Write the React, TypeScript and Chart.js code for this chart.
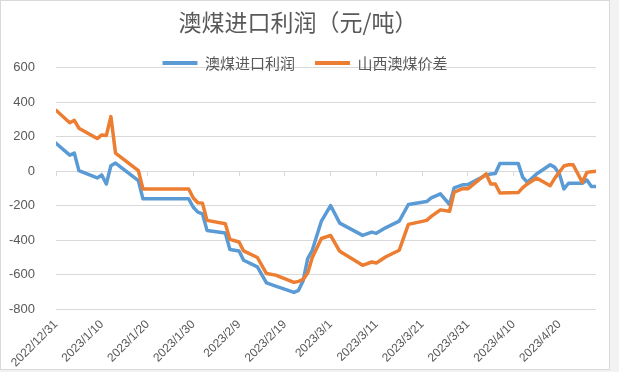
import React, { useEffect, useRef } from "react";
import { Chart, registerables } from "chart.js";

Chart.register(...registerables);

const TITLE = "澳煤进口利润（元/吨）";
const SERIES_NAMES = ["澳煤进口利润", "山西澳煤价差"];

const dates = [
  "2022/12/31", "2023/1/3", "2023/1/4", "2023/1/5", "2023/1/9", "2023/1/10", "2023/1/11", "2023/1/12", "2023/1/13",
  "2023/1/18", "2023/1/19", "2023/1/29", "2023/1/30", "2023/1/31", "2023/2/1", "2023/2/2", "2023/2/6", "2023/2/7",
  "2023/2/9", "2023/2/10", "2023/2/13", "2023/2/15", "2023/2/17", "2023/2/21", "2023/2/22", "2023/2/23", "2023/2/24",
  "2023/2/25", "2023/2/27", "2023/3/1", "2023/3/3", "2023/3/8", "2023/3/10", "2023/3/11", "2023/3/13", "2023/3/16",
  "2023/3/18", "2023/3/22", "2023/3/23", "2023/3/25", "2023/3/27", "2023/3/28", "2023/3/30", "2023/3/31", "2023/4/4",
  "2023/4/5", "2023/4/6", "2023/4/7", "2023/4/11", "2023/4/12", "2023/4/13", "2023/4/15", "2023/4/18", "2023/4/19",
  "2023/4/20", "2023/4/21", "2023/4/22", "2023/4/23", "2023/4/25", "2023/4/26", "2023/4/27", "2023/4/28",
];

// 澳煤进口利润
const importProfit = [
  162, 93, 105, 3, -39, -22, -74, 32, 47,
  -55, -160, -160, -209, -237, -247, -343, -358, -454,
  -462, -516, -554, -647, -666, -702, -690, -635, -506,
  -458, -289, -199, -301, -372, -353, -360, -328, -289,
  -193, -176, -155, -131, -193, -97, -78, -78, -22,
  -16, -13, 45, 45, -36, -64, -16, 37, 22,
  -16, -103, -70, -70, -70, -51, -89, -89,
];

// 山西澳煤价差
const shanxiSpread = [
  353, 281, 295, 249, 189, 210, 207, 316, 105,
  3, -103, -103, -155, -183, -185, -285, -305, -395,
  -410, -462, -500, -593, -602, -644, -638, -627, -590,
  -500, -390, -372, -464, -545, -526, -532, -497, -458,
  -308, -285, -262, -224, -232, -122, -100, -102, -16,
  -74, -74, -126, -124, -95, -74, -40, -84, -40,
  -5, 30, 37, 37, -64, -7, -3, -1,
];

const Y_MIN = -800;
const Y_MAX = 600;
const Y_STEP = 200;
const X_START = "2022/12/31";
const X_END = "2023/4/28";
const X_STEP_DAYS = 10;

const BLUE = "#5B9BD5";
const ORANGE = "#ED7D31";
const TEXT = "#595959";
const GRID = "#D9D9D9";
const CJK = "'Noto Sans CJK SC', 'Noto Sans', sans-serif";
const NUM = "'Liberation Sans', Arial, sans-serif";

const DAY = 86400000;
const toUTC = (s: string) => {
  const [y, m, d] = s.split("/").map(Number);
  return Date.UTC(y, m - 1, d);
};
const BASE = toUTC(X_START);
const dayOffset = (s: string) => Math.round((toUTC(s) - BASE) / DAY);
const dayLabel = (v: number) => {
  const dt = new Date(BASE + Math.round(v) * DAY);
  return `${dt.getUTCFullYear()}/${dt.getUTCMonth() + 1}/${dt.getUTCDate()}`;
};

// Let the legend overlap the top of the plot area, as in the original.
const legendFit = {
  id: "legendFit",
  beforeLayout(chart: any) {
    const lg = chart.legend;
    if (!lg || lg.__patched) return;
    const origFit = lg.fit;
    lg.fit = function () {
      origFit.call(this);
      this.height = 32;
    };
    const origDraw = lg.draw;
    lg.draw = function () {
      const b = this.bottom;
      this.bottom = b + 20;
      const ctx = this.ctx;
      ctx.save();
      ctx.translate(7, 0);
      origDraw.call(this);
      ctx.restore();
      this.bottom = b;
    };
    lg.__patched = true;
  },
};

export default function App() {
  const ref = useRef<HTMLCanvasElement | null>(null);

  useEffect(() => {
    document.body.style.margin = "0";
    const canvas = ref.current;
    if (!canvas) return;
    const xMax = dayOffset(X_END);
    const chart = new Chart(canvas, {
      type: "line",
      data: {
        datasets: [
          {
            label: SERIES_NAMES[0],
            data: dates.map((d, i) => ({ x: dayOffset(d), y: importProfit[i] })),
            borderColor: BLUE,
            backgroundColor: BLUE,
            borderWidth: 3.5,
            pointRadius: 0,
            tension: 0,
            borderJoinStyle: "round",
            borderCapStyle: "round",
            order: 2,
          },
          {
            label: SERIES_NAMES[1],
            data: dates.map((d, i) => ({ x: dayOffset(d), y: shanxiSpread[i] })),
            borderColor: ORANGE,
            backgroundColor: ORANGE,
            borderWidth: 3.5,
            pointRadius: 0,
            tension: 0,
            borderJoinStyle: "round",
            borderCapStyle: "round",
            order: 1,
          },
        ],
      },
      options: {
        responsive: false,
        animation: false,
        events: [],
        layout: { padding: { left: 0, right: 14, top: 0, bottom: 0 } },
        plugins: {
          title: {
            display: true,
            text: TITLE,
            color: TEXT,
            font: { family: CJK, size: 23, weight: "normal" },
            padding: { top: 8, bottom: 0 },
          },
          legend: {
            display: true,
            position: "top",
            labels: {
              boxWidth: 35,
              boxHeight: 4,
              padding: 20,
              color: TEXT,
              font: { family: CJK, size: 15 },
              sort: (a: any, b: any) => a.datasetIndex - b.datasetIndex,
              generateLabels: (c: any) =>
                (Chart.defaults.plugins.legend.labels as any)
                  .generateLabels(c)
                  .map((l: any) => ({ ...l, lineWidth: 0 })),
            },
          },
          tooltip: { enabled: false },
        },
        scales: {
          x: {
            type: "linear",
            axis: "x",
            position: "bottom",
            min: 0,
            max: xMax,
            grid: { display: false, drawTicks: false },
            border: { display: false },
            ticks: {
              stepSize: X_STEP_DAYS,
              includeBounds: false,
              autoSkip: false,
              minRotation: 45,
              maxRotation: 45,
              padding: 8,
              color: TEXT,
              font: { family: NUM, size: 12 },
              callback: (v: any) => dayLabel(Number(v)),
            },
            afterFit: (s: any) => {
              s.height = 60.7;
            },
          },
          x0: {
            type: "linear",
            axis: "x",
            position: { y: 0 },
            min: 0,
            max: xMax,
            grid: { drawOnChartArea: false, drawTicks: true, tickLength: 5, color: GRID },
            border: { display: false },
            ticks: { display: false, stepSize: X_STEP_DAYS, includeBounds: false, autoSkip: false },
          },
          y: {
            type: "linear",
            min: Y_MIN,
            max: Y_MAX,
            grid: { color: GRID, drawTicks: false },
            border: { display: false },
            ticks: {
              stepSize: Y_STEP,
              padding: 21,
              color: TEXT,
              font: { family: NUM, size: 13 },
            },
            afterFit: (s: any) => {
              s.width = 56;
            },
          },
        },
      } as any,
      plugins: [legendFit],
    });
    return () => chart.destroy();
  }, []);

  return (
    <div style={{ position: "relative", width: 619, height: 372, background: "#f2f2f2", overflow: "hidden" }}>
      <div
        style={{
          position: "absolute",
          left: 0,
          top: 0,
          width: 610,
          height: 370,
          background: "#fff",
          border: "1px solid #d9d9d9",
          boxSizing: "border-box",
        }}
      />
      <canvas ref={ref} width={610} height={370} style={{ position: "absolute", left: 0, top: 0 }} />
    </div>
  );
}
